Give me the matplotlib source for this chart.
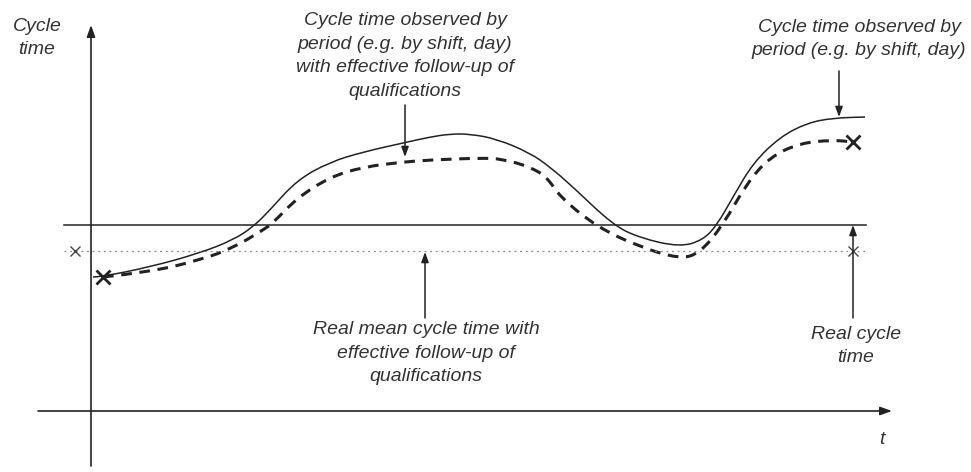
import matplotlib.pyplot as plt
from matplotlib.path import Path
from matplotlib.patches import PathPatch

# schematic drawn in pixel coordinates (y grows downwards)
observed_x = [93, 100, 150, 200, 233, 253, 270, 297, 330, 363, 403, 430, 450, 470,
              497, 530, 550, 573, 613, 640, 680, 703, 717, 733, 753, 780, 807, 833,
              865]
observed_y = [277, 277, 267, 253, 240, 227, 210, 180, 162, 152, 143, 137, 134, 134,
              139, 153, 167, 187, 225, 238, 247, 240, 225, 197, 163, 137, 123, 118,
              117]

followup_x = [103, 150, 200, 233, 263, 273, 297, 330, 363, 403, 430, 480, 503, 530,
              547, 560, 597, 640, 680, 700, 723, 747, 770, 800, 833, 853]
followup_y = [277, 272, 260, 248, 230, 223, 198, 177, 167, 162, 160, 158, 159, 167,
              177, 197, 227, 247, 259, 253, 225, 183, 157, 143, 140, 142]

real_level = 225
mean_level = 251
line_start, line_end = 64, 866
mean_marks_x = [75, 853]
end_marks_x = [103, 853]
end_marks_y = [277, 142]

txt_observed_follow = ("Cycle time observed by\nperiod (e.g. by shift, day)\n"
                       "with effective follow-up of\nqualifications")
txt_observed = "Cycle time observed by\nperiod (e.g. by shift, day)"
txt_mean = "Real mean cycle time with\neffective follow-up of\nqualifications"
txt_real = "Real cycle\ntime"

ink = "#222222"
grey = "#444444"


def smooth_path(xs, ys):
    # quadratic bezier through the midpoints, read points act as controls
    pts = list(zip(xs, ys))
    verts = [pts[0]]
    codes = [Path.MOVETO]
    for i in range(1, len(pts) - 1):
        mid = ((pts[i][0] + pts[i + 1][0]) / 2, (pts[i][1] + pts[i + 1][1]) / 2)
        verts += [pts[i], mid]
        codes += [Path.CURVE3, Path.CURVE3]
    verts.append(pts[-1])
    codes.append(Path.LINETO)
    return Path(verts, codes)


fig = plt.figure(figsize=(9.71, 4.72), dpi=100)
ax = fig.add_axes([0, 0, 1, 1])
ax.set_xlim(0, 971)
ax.set_ylim(472, 0)
ax.axis("off")

# axes of the diagram
axis_arrow = dict(arrowstyle="-|>,head_length=0.7,head_width=0.25", color=ink, lw=1.2,
                  shrinkA=0, shrinkB=0)
ax.annotate("", xy=(91, 25), xytext=(91, 466), arrowprops=axis_arrow)
ax.annotate("", xy=(892, 411), xytext=(38, 411), arrowprops=axis_arrow)

# reference levels
ax.plot([line_start, line_end], [real_level, real_level], color=ink, lw=1.1)
ax.plot([line_start, line_end], [mean_level, mean_level], color="#888888", lw=0.9,
        ls=(0, (1.5, 3)))
ax.plot(mean_marks_x, [mean_level] * 2, ls="none", marker="x", ms=7, mew=1.0,
        color=grey)

# curves
ax.add_patch(PathPatch(smooth_path(observed_x, observed_y), fill=False,
                       edgecolor=ink, lw=1.1))
ax.add_patch(PathPatch(smooth_path(followup_x, followup_y), fill=False,
                       edgecolor=ink, lw=2.2, ls=(0, (3.5, 2.5))))
ax.plot(end_marks_x, end_marks_y, ls="none", marker="x", ms=10, mew=2, color=ink)

# annotation arrows
note_arrow = dict(arrowstyle="-|>,head_length=0.6,head_width=0.22", color=ink, lw=1.1,
                  shrinkA=0, shrinkB=0)
ax.annotate("", xy=(405, 157), xytext=(405, 105), arrowprops=note_arrow)
ax.annotate("", xy=(839, 117), xytext=(839, 71), arrowprops=note_arrow)
ax.annotate("", xy=(425, 252), xytext=(425, 318), arrowprops=note_arrow)
ax.annotate("", xy=(853, 225), xytext=(853, 318), arrowprops=note_arrow)

# labels
font = dict(family="Liberation Sans", style="italic", fontsize=14, color="#333333",
            ha="center", va="center", linespacing=1.52)
ax.text(37, 38, "Cycle\ntime", **font)
ax.text(405, 56, txt_observed_follow, **font)
ax.text(859, 39, txt_observed, **font)
ax.text(426, 353, txt_mean, **font)
ax.text(856, 346, txt_real, **font)
ax.text(882, 439, "t", **font)

fig.savefig("out.png", dpi=100)
